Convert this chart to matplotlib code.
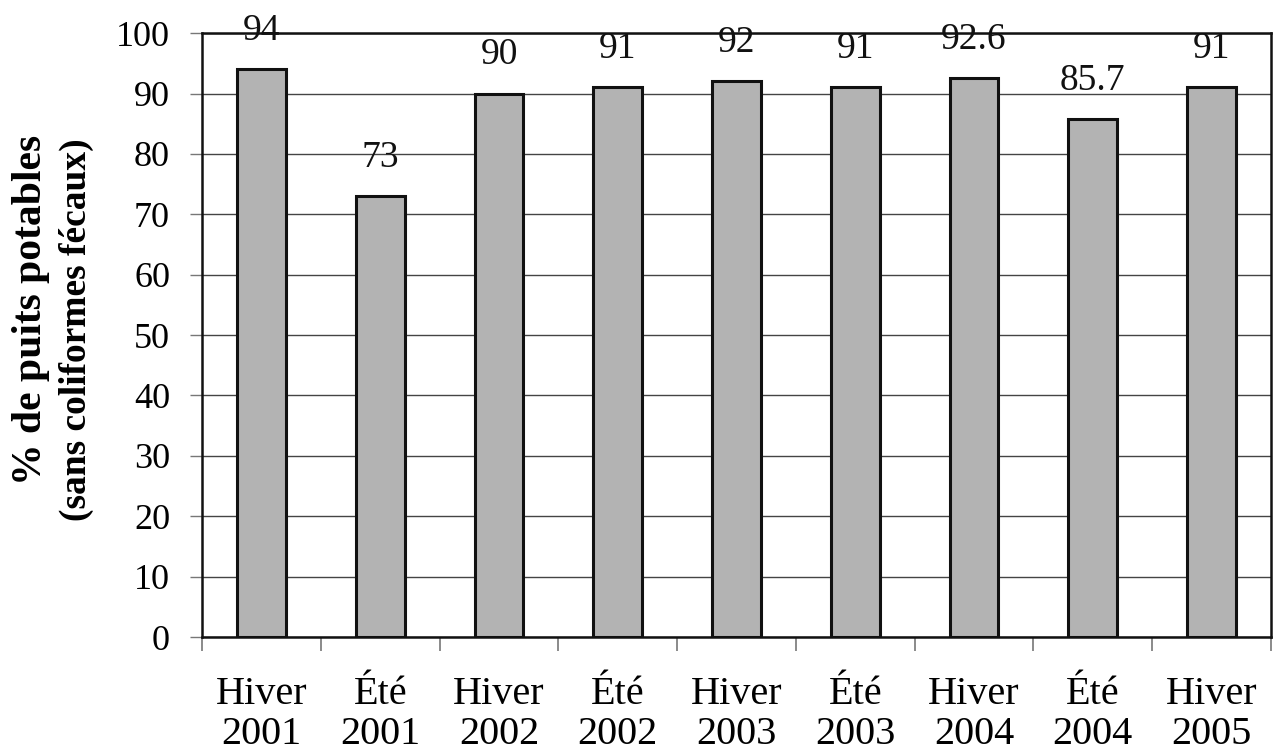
import matplotlib
matplotlib.use("Agg")
import matplotlib.pyplot as plt
import numpy as np

# data
seasons = ["Hiver", "Été", "Hiver", "Été", "Hiver", "Été", "Hiver", "Été", "Hiver"]
years = ["2001", "2001", "2002", "2002", "2003", "2003", "2004", "2004", "2005"]
values = [94, 73, 90, 91, 92, 91, 92.6, 85.7, 91]
value_labels = ["94", "73", "90", "91", "92", "91", "92.6", "85.7", "91"]
yticks = [0, 10, 20, 30, 40, 50, 60, 70, 80, 90, 100]

plt.rcParams["font.family"] = ["Liberation Serif", "DejaVu Serif"]

W, H = 1274, 753
fig = plt.figure(figsize=(W / 100, H / 100), dpi=100)
ax = fig.add_axes([0.1586, 0.154, 0.8390, 0.802])

x = np.arange(len(values))
ax.bar(x, values, width=0.41, color="#b3b3b3", edgecolor="#111111",
       linewidth=2.2, zorder=3)

for xi, v, lab in zip(x, values, value_labels):
    ax.annotate(lab, (xi, v), xytext=(0, 21), textcoords="offset points",
                ha="center", va="baseline", fontsize=27, color="#111111",
                zorder=4)

ax.set_xlim(-0.5, len(values) - 0.5)
ax.set_ylim(0, 100)
ax.set_yticks(yticks)
ax.set_yticklabels([str(t) for t in yticks], fontsize=26)
ax.yaxis.grid(True, color="#444444", linewidth=1.0, zorder=0)
ax.tick_params(axis="y", length=9, width=1, color="#777777", pad=14)

# category labels on major ticks (hidden), tick marks between categories
ax.set_xticks(x)
ax.set_xticklabels([f"{s}\n{y}" for s, y in zip(seasons, years)],
                   fontsize=29, linespacing=1.1)
ax.tick_params(axis="x", which="major", length=0, pad=28)
ax.set_xticks(np.arange(-0.5, len(values)), minor=True)
ax.tick_params(axis="x", which="minor", length=10, width=1.2,
               color="#777777", direction="out")

for side in ["left", "right", "top", "bottom"]:
    ax.spines[side].set_color("#111111")
    ax.spines[side].set_linewidth(1.8)

# two-line y label, placed line by line
fig.text(31 / W, 1 - 310 / H, "% de puits potables", rotation=90,
         ha="center", va="center", fontsize=30, fontweight="bold")
fig.text(76 / W, 1 - 330 / H, "(sans coliformes fécaux)", rotation=90,
         ha="center", va="center", fontsize=27, fontweight="bold")

fig.savefig("out.png", dpi=100)
